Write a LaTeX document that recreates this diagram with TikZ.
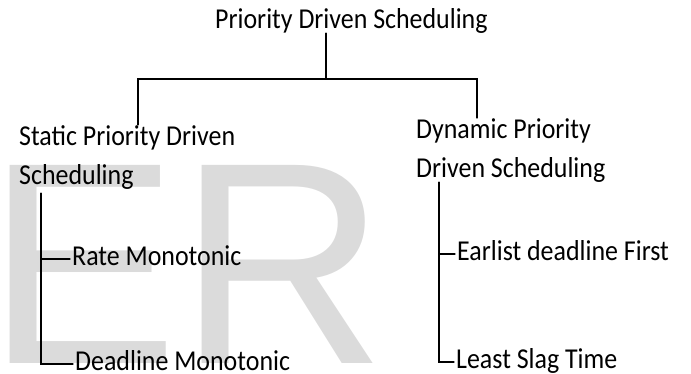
\documentclass[tikz,border=0pt]{standalone}
\usepackage{fontspec}
\newfontfamily\chartfont{Carlito}[FakeStretch=0.9]
\newfontfamily\markfont{Liberation Sans}
\usetikzlibrary{calc}

\tikzset{
	heading/.style={anchor=base west, inner sep=0, align=left,
		font=\chartfont\fontsize{28.8}{39}\selectfont},
	leaf/.style={anchor=west, inner xsep=2pt, inner ysep=0,
		text height=15pt, text depth=3pt,
		font=\chartfont\fontsize{28.8}{39}\selectfont},
	link/.style={line width=1.3pt},
	watermark/.style={anchor=base west, inner sep=0, text=black!14,
		font=\markfont\fontsize{288}{288}\selectfont}
}

\begin{document}
\begin{tikzpicture}[x=1pt, y=-1pt, line cap=round]
		\useasboundingbox (0,0) rectangle (691,373);
		
		% Watermark
		\node[watermark] (mark) at (-14,363) {ER};
		
		% Coordinates
		\coordinate (top) at (326,79);
		\coordinate (lbus) at (138,79);
		\coordinate (rbus) at (477,79);
		\coordinate (lstem) at (41,0);
		\coordinate (rstem) at (439,0);
		
		% Nodes
		\node[heading] (root) at (215,28) {Priority Driven Scheduling};
		\node[heading] (static) at (19,184) {Static Priority Driven\\Scheduling};
		\node[heading] (dynamic) at (416,177) {Dynamic Priority\\Driven Scheduling};
		%
		\node[leaf] (rate) at (70,259) {Rate Monotonic};
		\node[leaf] (deadline) at (73,364) {Deadline Monotonic};
		\node[leaf] (earlist) at (455,254) {Earlist deadline First};
		\node[leaf] (least) at (454,362) {Least Slag Time};
		
		% Lines
		\draw[link] (root.south -| top) -- (top);
		\draw[link] (lbus |- static.north) -- (lbus) -- (rbus) -- (rbus |- dynamic.north);
		%
		\draw[link] ([yshift=-4pt]static.south -| lstem) |- (deadline.west);
		\draw[link] (rate.west -| lstem) -- (rate.west);
		\draw[link] (dynamic.south -| rstem) |- (least.west);
		\draw[link] (earlist.west -| rstem) -- (earlist.west);
	\end{tikzpicture}
\end{document}
